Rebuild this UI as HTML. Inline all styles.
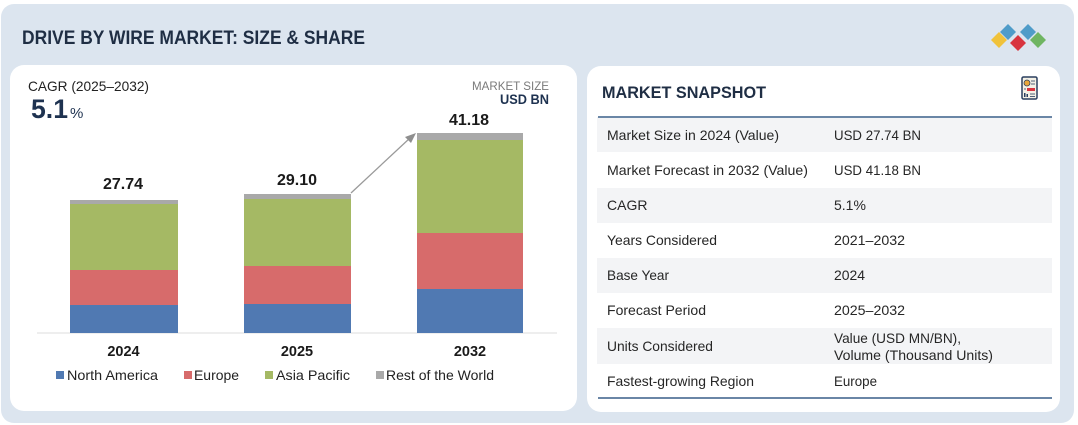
<!DOCTYPE html>
<html><head><meta charset="utf-8"><style>
html,body{margin:0;padding:0;background:#fff;width:1078px;height:425px;overflow:hidden}
svg{display:block}
text{font-family:"Liberation Sans",sans-serif}
</style></head><body>
<svg width="1078" height="425" viewBox="0 0 1078 425" xmlns="http://www.w3.org/2000/svg">
<rect x="1" y="4" width="1073" height="419" rx="13" fill="#dce5ef"/>
<text x="22" y="44" font-size="19.5" font-weight="bold" fill="#1f2e44" textLength="343" lengthAdjust="spacingAndGlyphs">DRIVE BY WIRE MARKET: SIZE &amp; SHARE</text>
<!-- logo -->
<g>
<polygon points="999,32 1007,40 999,48 991,40" fill="#f0c23a"/>
<polygon points="1008,24 1016,32 1008,40 1000,32" fill="#4f9cc9"/>
<polygon points="1018,35 1026,43 1018,51 1010,43" fill="#d8343f"/>
<polygon points="1028,24 1036,32 1028,40 1020,32" fill="#4f9cc9"/>
<polygon points="1038,32 1046,40 1038,48 1030,40" fill="#6fb562"/>
</g>
<!-- left card -->
<rect x="10" y="65" width="567" height="346" rx="14" fill="#fff"/>
<text x="28" y="91" font-size="14" fill="#222" textLength="121" lengthAdjust="spacingAndGlyphs">CAGR (2025–2032)</text>
<text x="31" y="118" font-size="27" font-weight="bold" fill="#1e3250" textLength="37" lengthAdjust="spacingAndGlyphs">5.1</text>
<text x="70" y="118" font-size="15" fill="#1e3250">%</text>
<text x="549" y="90" font-size="12" fill="#7a7a7a" text-anchor="end" textLength="77" lengthAdjust="spacingAndGlyphs">MARKET SIZE</text>
<text x="549" y="104" font-size="13.5" font-weight="bold" fill="#1e3250" text-anchor="end" textLength="49" lengthAdjust="spacingAndGlyphs">USD BN</text>
<!-- axis -->
<line x1="37" y1="333" x2="557" y2="333" stroke="#dcdcdc" stroke-width="1"/>
<!-- 2024 -->
<rect x="70" y="305" width="108" height="28" fill="#5079b2"/>
<rect x="70" y="270" width="108" height="35" fill="#d76b6b"/>
<rect x="70" y="204" width="108" height="66" fill="#a5b964"/>
<rect x="70" y="200" width="108" height="4" fill="#a9a9a9"/>
<!-- 2025 -->
<rect x="244" y="304" width="107" height="29" fill="#5079b2"/>
<rect x="244" y="266" width="107" height="38" fill="#d76b6b"/>
<rect x="244" y="199" width="107" height="67" fill="#a5b964"/>
<rect x="244" y="194" width="107" height="5" fill="#a9a9a9"/>
<!-- 2032 -->
<rect x="417" y="289" width="106" height="44" fill="#5079b2"/>
<rect x="417" y="233" width="106" height="56" fill="#d76b6b"/>
<rect x="417" y="140" width="106" height="93" fill="#a5b964"/>
<rect x="417" y="133" width="106" height="7" fill="#a9a9a9"/>
<!-- values -->
<text x="123" y="189" font-size="16" font-weight="bold" fill="#1a1a1a" text-anchor="middle">27.74</text>
<text x="297" y="185" font-size="16" font-weight="bold" fill="#1a1a1a" text-anchor="middle">29.10</text>
<text x="469" y="125" font-size="16" font-weight="bold" fill="#1a1a1a" text-anchor="middle">41.18</text>
<!-- arrow -->
<line x1="351" y1="193" x2="410" y2="138" stroke="#9a9a9a" stroke-width="1.3"/>
<polygon points="416,133 405,137 411,143" fill="#8f8f8f"/>
<!-- year labels -->
<text x="123.5" y="356" font-size="14.5" font-weight="bold" fill="#1a1a1a" text-anchor="middle">2024</text>
<text x="297" y="356" font-size="14.5" font-weight="bold" fill="#1a1a1a" text-anchor="middle">2025</text>
<text x="470" y="356" font-size="14.5" font-weight="bold" fill="#1a1a1a" text-anchor="middle">2032</text>
<!-- legend -->
<rect x="56" y="371" width="8" height="8" fill="#5079b2"/>
<text x="67" y="380" font-size="14" fill="#222" textLength="91" lengthAdjust="spacingAndGlyphs">North America</text>
<rect x="184" y="371" width="8" height="8" fill="#d76b6b"/>
<text x="194" y="380" font-size="14" fill="#222" textLength="45" lengthAdjust="spacingAndGlyphs">Europe</text>
<rect x="265" y="371" width="8" height="8" fill="#a5b964"/>
<text x="276" y="380" font-size="14" fill="#222" textLength="74" lengthAdjust="spacingAndGlyphs">Asia Pacific</text>
<rect x="376" y="371" width="8" height="8" fill="#a9a9a9"/>
<text x="386" y="380" font-size="14" fill="#222" textLength="108" lengthAdjust="spacingAndGlyphs">Rest of the World</text>
<!-- right card -->
<rect x="587" y="66" width="473" height="346" rx="14" fill="#fff"/>
<text x="602" y="98" font-size="16.5" font-weight="bold" fill="#1f2e44" textLength="164" lengthAdjust="spacingAndGlyphs">MARKET SNAPSHOT</text>
<!-- icon -->
<g>
<rect x="1022" y="77" width="15" height="22" rx="1.5" fill="#f4f1e6" stroke="#2a3f5f" stroke-width="1.5"/>
<circle cx="1027" cy="83" r="3" fill="#e8a53a" stroke="#2a3f5f" stroke-width="0.8"/>
<line x1="1031" y1="81" x2="1035" y2="81" stroke="#2a3f5f" stroke-width="0.8"/>
<line x1="1031" y1="84" x2="1035" y2="84" stroke="#2a3f5f" stroke-width="0.8"/>
<rect x="1027" y="88" width="8" height="3" fill="#d8343f"/>
<line x1="1024" y1="89" x2="1026" y2="89" stroke="#2a3f5f" stroke-width="0.8"/>
<rect x="1024" y="93" width="1.5" height="4" fill="#2a3f5f"/>
<rect x="1026.5" y="94" width="1.5" height="3" fill="#2a3f5f"/>
<line x1="1030" y1="94" x2="1035" y2="94" stroke="#2a3f5f" stroke-width="0.8"/>
<line x1="1030" y1="96.5" x2="1035" y2="96.5" stroke="#2a3f5f" stroke-width="0.8"/>
</g>
<!-- rows -->
<rect x="597" y="117" width="455" height="35" fill="#f3f4f6"/>
<rect x="597" y="188" width="455" height="35" fill="#f3f4f6"/>
<rect x="597" y="258" width="455" height="35" fill="#f3f4f6"/>
<rect x="597" y="328" width="455" height="36" fill="#f3f4f6"/>
<line x1="598" y1="117" x2="1052" y2="117" stroke="#6a86a6" stroke-width="2"/>
<line x1="598" y1="398" x2="1052" y2="398" stroke="#6a86a6" stroke-width="2"/>
<g font-size="14" fill="#262626">
<text x="607" y="140" textLength="172" lengthAdjust="spacingAndGlyphs">Market Size in 2024 (Value)</text>
<text x="834" y="140" textLength="87" lengthAdjust="spacingAndGlyphs">USD 27.74 BN</text>
<text x="607" y="175" textLength="201" lengthAdjust="spacingAndGlyphs">Market Forecast in 2032 (Value)</text>
<text x="834" y="175" textLength="87" lengthAdjust="spacingAndGlyphs">USD 41.18 BN</text>
<text x="607" y="210">CAGR</text>
<text x="834" y="210">5.1%</text>
<text x="607" y="245" textLength="110" lengthAdjust="spacingAndGlyphs">Years Considered</text>
<text x="834" y="245" textLength="71" lengthAdjust="spacingAndGlyphs">2021–2032</text>
<text x="607" y="280" textLength="62" lengthAdjust="spacingAndGlyphs">Base Year</text>
<text x="834" y="280" textLength="31" lengthAdjust="spacingAndGlyphs">2024</text>
<text x="607" y="315" textLength="99" lengthAdjust="spacingAndGlyphs">Forecast Period</text>
<text x="834" y="315" textLength="71" lengthAdjust="spacingAndGlyphs">2025–2032</text>
<text x="607" y="351" textLength="106" lengthAdjust="spacingAndGlyphs">Units Considered</text>
<text x="834" y="343" textLength="127" lengthAdjust="spacingAndGlyphs">Value (USD MN/BN),</text>
<text x="834" y="360" textLength="159" lengthAdjust="spacingAndGlyphs">Volume (Thousand Units)</text>
<text x="607" y="386" textLength="147" lengthAdjust="spacingAndGlyphs">Fastest-growing Region</text>
<text x="834" y="386" textLength="43" lengthAdjust="spacingAndGlyphs">Europe</text>
</g>
</svg>
</body></html>
